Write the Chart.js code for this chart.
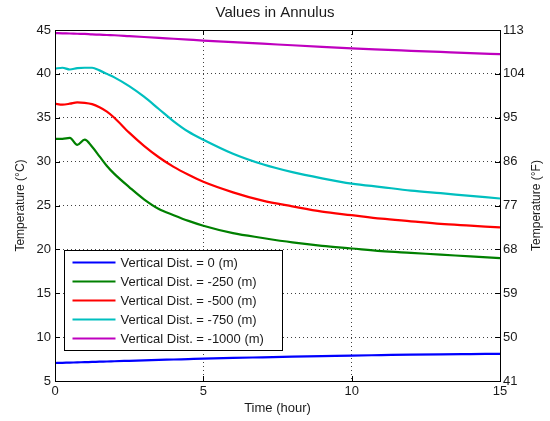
<!DOCTYPE html>
<html>
<head>
<meta charset="utf-8">
<title>Values in Annulus</title>
<script src="https://cdn.jsdelivr.net/npm/chart.js@4/dist/chart.umd.min.js"></script>
<style>
    body { margin: 0; background: #fff; }
    canvas { display: block; }
</style>
</head>
<body>
<canvas id="annulusChart" width="550" height="421"></canvas>
<script>
// time axis (hours), shared by every series
const timeHours = [0, 0.25, 0.5, 0.75, 1, 1.25, 1.5, 1.75, 2, 2.5, 3, 3.5, 4, 4.5, 5, 6, 7, 8, 9, 10, 11, 12, 13, 14, 15];

// temperatures in the annulus (°C)
const dist0 = [7.05, 7.07, 7.1, 7.12, 7.15, 7.17, 7.2, 7.22, 7.25, 7.3, 7.35, 7.4, 7.45, 7.5, 7.55, 7.63, 7.7, 7.77, 7.83, 7.9, 7.95, 8.0, 8.04, 8.07, 8.1];
const dist250 = [32.6, 32.6, 32.7, 31.9, 32.5, 31.7, 30.6, 29.5, 28.6, 27.1, 25.7, 24.6, 23.9, 23.25, 22.7, 21.85, 21.3, 20.8, 20.4, 20.1, 19.8, 19.6, 19.4, 19.2, 19.0];
const dist500 = [36.6, 36.5, 36.6, 36.75, 36.7, 36.55, 36.2, 35.7, 35.0, 33.3, 31.8, 30.5, 29.4, 28.5, 27.7, 26.5, 25.55, 24.9, 24.3, 23.9, 23.5, 23.2, 22.9, 22.7, 22.5];
const dist750 = [40.6, 40.7, 40.5, 40.65, 40.7, 40.7, 40.4, 40.0, 39.6, 38.6, 37.4, 36.0, 34.6, 33.4, 32.5, 30.9, 29.7, 28.8, 28.1, 27.5, 27.1, 26.7, 26.4, 26.1, 25.8];
const dist1000 = [44.65, 44.62, 44.6, 44.57, 44.55, 44.5, 44.47, 44.43, 44.4, 44.3, 44.2, 44.1, 44.0, 43.9, 43.8, 43.62, 43.44, 43.26, 43.08, 42.9, 42.76, 42.63, 42.5, 42.37, 42.25];

const seriesLabels = ["Vertical Dist. = 0 (m)", "Vertical Dist. = -250 (m)", "Vertical Dist. = -500 (m)", "Vertical Dist. = -750 (m)", "Vertical Dist. = -1000 (m)"];
const seriesColors = ["#0000ff", "#008000", "#ff0000", "#00bfbf", "#bf00bf"];
const seriesValues = [dist0, dist250, dist500, dist750, dist1000];

const FONT = "'Liberation Sans', Arial, sans-serif";
const TEXT_COLOR = "#1a1a1a";

function toPoints(values) {
    return timeHours.map((t, i) => ({ x: t, y: values[i] }));
}

// box around the plot, inward tick marks, right axis title and the legend inside the axes
const matlabFrame = {
    id: "matlabFrame",
    afterDraw(chart) {
        const ctx = chart.ctx;
        const area = chart.chartArea;
        const xs = chart.scales.x, ys = chart.scales.y;

        ctx.save();
        ctx.lineWidth = 1;
        ctx.strokeStyle = "#000";
        ctx.beginPath();
        xs.ticks.forEach(tk => {
            const px = Math.round(xs.getPixelForValue(tk.value)) + 0.5;
            ctx.moveTo(px, area.bottom); ctx.lineTo(px, area.bottom - 5);
            ctx.moveTo(px, area.top); ctx.lineTo(px, area.top + 5);
        });
        ys.ticks.forEach(tk => {
            const py = Math.round(ys.getPixelForValue(tk.value)) + 0.5;
            ctx.moveTo(area.left, py); ctx.lineTo(area.left + 5, py);
            ctx.moveTo(area.right, py); ctx.lineTo(area.right - 5, py);
        });
        ctx.stroke();

        ctx.strokeRect(Math.round(area.left) + 0.5, Math.round(area.top) + 0.5,
            Math.round(area.right - area.left), Math.round(area.bottom - area.top));

        // right axis title, read bottom to top like the left one
        ctx.save();
        ctx.translate(537, (area.top + area.bottom) / 2);
        ctx.rotate(-Math.PI / 2);
        ctx.font = "12px " + FONT;
        ctx.fillStyle = TEXT_COLOR;
        ctx.textAlign = "center";
        ctx.textBaseline = "middle";
        ctx.fillText("Temperature (°F)", 0, 0);
        ctx.restore();

        // legend
        const bx = Math.round(area.left) + 9.5;
        const by = Math.round(area.bottom) - 130.5;
        const bw = 218, bh = 100;
        ctx.fillStyle = "#fff";
        ctx.fillRect(bx, by, bw, bh);
        ctx.strokeStyle = "#000";
        ctx.strokeRect(bx, by, bw, bh);
        ctx.font = "13px " + FONT;
        ctx.textBaseline = "middle";
        ctx.textAlign = "left";
        chart.data.datasets.forEach((ds, i) => {
            const ly = by + 12 + i * 19;
            ctx.strokeStyle = ds.borderColor;
            ctx.lineWidth = 2;
            ctx.beginPath();
            ctx.moveTo(bx + 8, ly);
            ctx.lineTo(bx + 51, ly);
            ctx.stroke();
            ctx.fillStyle = TEXT_COLOR;
            ctx.fillText(ds.label, bx + 56, ly + 0.5);
        });
        ctx.restore();
    }
};

new Chart(document.getElementById("annulusChart"), {
    type: "line",
    data: {
        datasets: seriesValues.map((vals, i) => ({
            label: seriesLabels[i],
            data: toPoints(vals),
            borderColor: seriesColors[i],
            backgroundColor: seriesColors[i],
            borderWidth: 2.2,
            pointRadius: 0,
            cubicInterpolationMode: "monotone",
            fill: false,
            yAxisID: "y"
        }))
    },
    options: {
        responsive: false,
        animation: false,
        layout: { padding: 0 },
        plugins: {
            legend: { display: false },
            tooltip: { enabled: false },
            title: {
                display: true,
                text: "Values in Annulus",
                color: TEXT_COLOR,
                font: { family: FONT, size: 15, weight: "normal" },
                padding: { top: 4, bottom: 8 }
            }
        },
        scales: {
            x: {
                type: "linear",
                min: 0, max: 15,
                ticks: { stepSize: 5, color: TEXT_COLOR, font: { family: FONT, size: 13 }, padding: 3, maxRotation: 0 },
                grid: { color: "rgba(0,0,0,0.75)", drawTicks: false },
                border: { display: false, dash: [1, 3] },
                title: { display: true, text: "Time (hour)", color: TEXT_COLOR, font: { family: FONT, size: 13 }, padding: { bottom: 5 } },
                afterFit(scale) { scale.height = 40; }
            },
            y: {
                type: "linear",
                position: "left",
                min: 5, max: 45,
                ticks: { stepSize: 5, color: TEXT_COLOR, font: { family: FONT, size: 13 }, padding: 4 },
                grid: { color: "rgba(0,0,0,0.75)", drawTicks: false },
                border: { display: false, dash: [1, 3] },
                title: { display: true, text: "Temperature (°C)", color: TEXT_COLOR, font: { family: FONT, size: 12 }, padding: { top: 13 } },
                afterFit(scale) { scale.width = 55; }
            },
            y2: {
                type: "linear",
                position: "right",
                min: 41, max: 113,
                ticks: { stepSize: 9, color: TEXT_COLOR, font: { family: FONT, size: 13 }, padding: 3 },
                grid: { display: false, drawTicks: false },
                border: { display: false },
                title: { display: false },
                afterFit(scale) { scale.width = 50; }
            }
        }
    },
    plugins: [matlabFrame]
});
</script>
</body>
</html>
